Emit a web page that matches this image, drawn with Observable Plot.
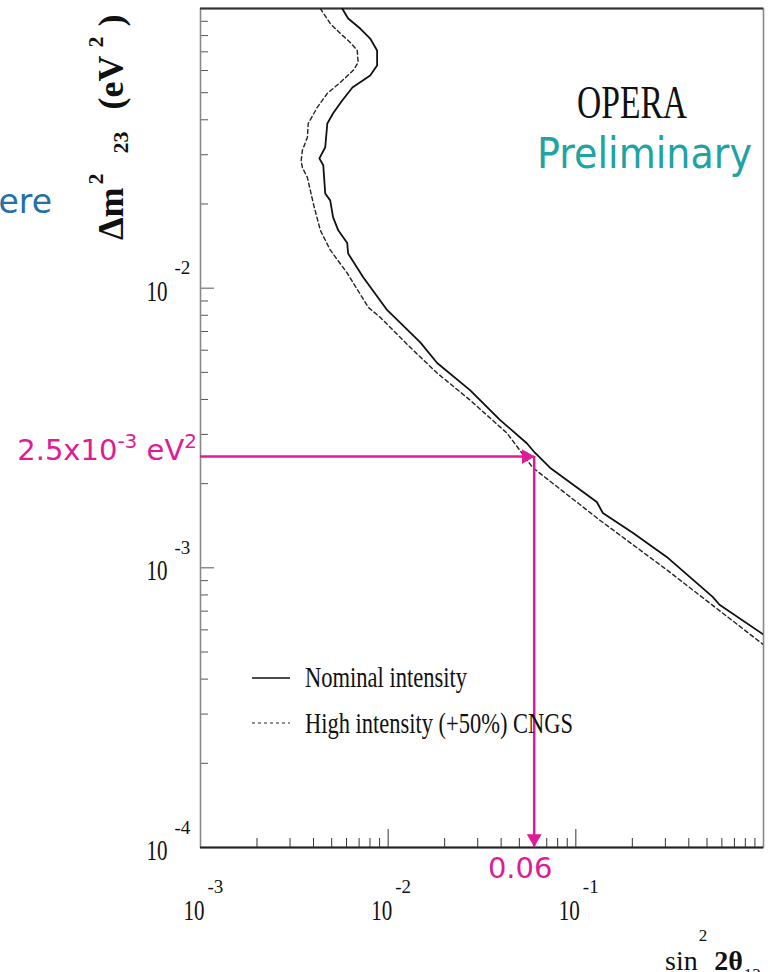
<!DOCTYPE html>
<html><head><meta charset="utf-8">
<script src="https://cdn.jsdelivr.net/npm/d3@7"></script>
<script src="https://cdn.jsdelivr.net/npm/@observablehq/plot@0.6"></script>
<style>body{margin:0;background:#fff;} svg{display:block}</style>
</head><body><div id="chart"></div>
<script>
// Nominal intensity contour (solid)
const nominalSin2 = [0.00569,0.00612,0.00710,0.00802,0.00873,0.00873,0.00802,0.00645,0.00569,0.00509,0.00474,0.00462,0.00430,0.00451,0.00462,0.00491,0.00509,0.00542,0.00605,0.00612,0.00736,0.00989,0.01479,0.01824,0.0273,0.0394,0.0548,0.0605,0.0728,0.1294,0.1393,0.201,0.305,0.536,0.583,1.0];
const nominalDm2  = [0.1,0.0921,0.0848,0.0781,0.0708,0.0626,0.0576,0.0522,0.0469,0.0422,0.0388,0.0319,0.0291,0.0275,0.0218,0.0206,0.0179,0.0161,0.0145,0.0133,0.01094,0.00834,0.00641,0.00540,0.00432,0.00338,0.00279,0.00258,0.00228,0.00172,0.00157,0.001334,0.001094,0.000787,0.000738,0.000577];
// High intensity (+50%) CNGS contour (dashed)
const highSin2 = [0.00435,0.00491,0.00556,0.00628,0.00684,0.00692,0.00652,0.00556,0.00474,0.00419,0.00375,0.00371,0.00349,0.00344,0.00349,0.00371,0.00399,0.00435,0.00491,0.00605,0.00783,0.00906,0.01309,0.01824,0.0273,0.0430,0.0590,0.1343,0.305,1.0];
const highDm2  = [0.1,0.0884,0.0814,0.0756,0.0708,0.0641,0.0601,0.0544,0.0497,0.0443,0.0388,0.0346,0.0311,0.0286,0.0270,0.0249,0.0201,0.0161,0.0137,0.01132,0.00855,0.00787,0.00615,0.00497,0.00398,0.00303,0.00228,0.00148,0.000984,0.000531];
// Highlighted point
const markSin2 = 0.06;
const markDm2 = 2.5e-3;
// Ticks
const xMajor = [1e-3, 1e-2, 1e-1, 1];
const xMinor = [2e-3,3e-3,4e-3,5e-3,6e-3,7e-3,8e-3,9e-3,2e-2,3e-2,4e-2,5e-2,6e-2,7e-2,8e-2,9e-2,0.2,0.3,0.4,0.5,0.6,0.7,0.8,0.9];
const yMajor = [1e-4, 1e-3, 1e-2, 1e-1];
const yMinor = [2e-4,3e-4,4e-4,5e-4,6e-4,7e-4,8e-4,9e-4,2e-3,3e-3,4e-3,5e-3,6e-3,7e-3,8e-3,9e-3,2e-2,3e-2,4e-2,5e-2,6e-2,7e-2,8e-2,9e-2];
const xLabelValues = [1e-3, 1e-2, 1e-1];
const xLabelExps = ["-3", "-2", "-1"];
const yLabelValues = [1e-4, 1e-3, 1e-2];
const yLabelExps = ["-4", "-3", "-2"];

const W = 770, H = 972, mL = 200, mR = 7, mT = 8, mB = 125;
const pw = W - mL - mR, ph = H - mT - mB;
const magenta = "#e01b96";
const serif = "Liberation Serif";
const nominal = nominalSin2.map((s, i) => ({s, dm: nominalDm2[i]}));
const high = highSin2.map((s, i) => ({s, dm: highDm2[i]}));

const chart = Plot.plot({
  width: W, height: H,
  marginLeft: mL, marginRight: mR, marginTop: mT, marginBottom: mB,
  x: {type: "log", domain: [1e-3, 1], axis: null},
  y: {type: "log", domain: [1e-4, 1e-1], axis: null},
  style: {background: "white", fontFamily: serif},
  marks: [
    Plot.ruleX(xMinor, {x: d => d, insetTop: ph - 9, stroke: "#333", strokeWidth: 1}),
    Plot.ruleX(xMajor, {x: d => d, insetTop: ph - 18, stroke: "#333", strokeWidth: 1}),
    Plot.ruleY(yMinor, {y: d => d, insetRight: pw - 8, stroke: "#555", strokeWidth: 1}),
    Plot.ruleY(yMajor, {y: d => d, insetRight: pw - 14, stroke: "#555", strokeWidth: 1}),
    Plot.frame({stroke: "#888", strokeWidth: 1.6}),
    Plot.ruleY([1e-1], {y: d => d, stroke: "#333", strokeWidth: 2}),
    Plot.ruleY([1e-4], {y: d => d, stroke: "#222", strokeWidth: 2.2}),
    Plot.line(high, {x: "s", y: "dm", stroke: "#222", strokeWidth: 1.4, strokeDasharray: "4,3", clip: true}),
    Plot.line(nominal, {x: "s", y: "dm", stroke: "#111", strokeWidth: 1.8, clip: true}),
    Plot.ruleY([markDm2], {y: d => d, x1: () => 1e-3, x2: () => markSin2, stroke: magenta, strokeWidth: 2.5}),
    Plot.ruleX([markSin2], {x: d => d, y1: () => 1e-4, y2: () => markDm2, stroke: magenta, strokeWidth: 2.5}),
    Plot.dot([markSin2], {x: d => d, y: () => markDm2, symbol: "triangle", rotate: 90, r: 5.5, fill: magenta, dx: -8}),
    Plot.dot([markSin2], {x: d => d, y: () => 1e-4, symbol: "triangle", rotate: 180, r: 5.5, fill: magenta, dy: -9}),
    // tick labels
    Plot.text(xLabelValues, {x: d => d, frameAnchor: "bottom", dy: 63, dx: 4, text: () => "10", textAnchor: "end", lineAnchor: "middle", fontSize: 30, fontFamily: serif, fill: "#111"}),
    Plot.text(xLabelValues, {x: d => d, frameAnchor: "bottom", dy: 39, dx: 7, text: (d, i) => xLabelExps[i], textAnchor: "start", lineAnchor: "middle", fontSize: 19, fontFamily: serif, fill: "#111"}),
    Plot.text(yLabelValues, {y: d => d, frameAnchor: "left", dy: 3, dx: -33, text: () => "10", textAnchor: "end", lineAnchor: "middle", fontSize: 30, fontFamily: serif, fill: "#111"}),
    Plot.text(yLabelValues, {y: d => d, frameAnchor: "left", dy: -20, dx: -26, text: (d, i) => yLabelExps[i], textAnchor: "start", lineAnchor: "middle", fontSize: 19, fontFamily: serif, fill: "#111"}),
    // highlighted value on x
    Plot.text([markSin2], {x: d => d, frameAnchor: "bottom", dy: 30, dx: -14, text: d => String(d), textAnchor: "middle", lineAnchor: "bottom", fontSize: 29, fontFamily: "DejaVu Sans", fill: magenta})
  ]
});

const svg = d3.select(chart);
// condensed "10" labels
svg.selectAll("text").filter(function() { return this.textContent === "10"; })
  .attr("textLength", 21).attr("lengthAdjust", "spacingAndGlyphs");

const ys = chart.scale("y");
const yMark = ys.apply(markDm2);

// magenta label on y
const ml = svg.append("text").attr("x", 197).attr("y", yMark + 4).attr("text-anchor", "end")
  .attr("font-family", "DejaVu Sans").attr("font-size", 29).attr("fill", magenta);
ml.append("tspan").text("2.5x10");
ml.append("tspan").attr("font-size", 20).attr("dy", -12).text("-3");
ml.append("tspan").attr("dy", 12).text(" eV");
ml.append("tspan").attr("font-size", 20).attr("dy", -12).text("2");

// cut-off slide word on the left
svg.append("text").attr("x", 52).attr("y", 213).attr("text-anchor", "end")
  .attr("font-family", "DejaVu Sans").attr("font-size", 33).attr("fill", "#2370a8").text("here");

// OPERA / Preliminary
svg.append("text").attr("x", 577).attr("y", 118).attr("text-anchor", "start").attr("font-family", serif).attr("font-size", 46)
  .attr("fill", "#111").attr("textLength", 110).attr("lengthAdjust", "spacingAndGlyphs").text("OPERA");
svg.append("text").attr("x", 537).attr("y", 168).attr("text-anchor", "start").attr("font-family", "DejaVu Sans").attr("font-size", 42)
  .attr("fill", "#1fa3a3").attr("textLength", 215).attr("lengthAdjust", "spacingAndGlyphs").text("Preliminary");

// legend
svg.append("line").attr("x1", 252).attr("x2", 290).attr("y1", 678).attr("y2", 678).attr("stroke", "#111").attr("stroke-width", 1.5);
svg.append("line").attr("x1", 252).attr("x2", 290).attr("y1", 723).attr("y2", 723).attr("stroke", "#222").attr("stroke-width", 1.2).attr("stroke-dasharray", "3,3");
svg.append("text").attr("x", 305).attr("y", 687).attr("text-anchor", "start").attr("font-family", serif).attr("font-size", 30).attr("fill", "#111")
  .attr("textLength", 162).attr("lengthAdjust", "spacingAndGlyphs").text("Nominal intensity");
svg.append("text").attr("x", 305).attr("y", 733).attr("text-anchor", "start").attr("font-family", serif).attr("font-size", 30).attr("fill", "#111")
  .attr("textLength", 268).attr("lengthAdjust", "spacingAndGlyphs").text("High intensity (+50%) CNGS");

// y axis title
const yt = svg.append("text").attr("transform", "translate(123,240) rotate(-90)").attr("text-anchor", "start")
  .attr("font-family", serif).attr("font-weight", "bold").attr("font-size", 36).attr("fill", "#111");
yt.append("tspan").text("Δm");
yt.append("tspan").attr("font-size", 22).attr("dx", 3).attr("dy", -20).text("2");
yt.append("tspan").attr("font-size", 22).attr("dx", 20).attr("dy", 25).text("23");
yt.append("tspan").attr("dx", 22).attr("dy", -5).text("(eV");
yt.append("tspan").attr("font-size", 22).attr("dx", 8).attr("dy", -20).text("2");
yt.append("tspan").attr("dx", 10).attr("dy", 20).text(")");

// x axis title
const xt = svg.append("text").attr("x", 665).attr("y", 970).attr("text-anchor", "start").attr("font-family", serif).attr("font-size", 28).attr("fill", "#111");
xt.append("tspan").text("sin");
xt.append("tspan").attr("font-size", 17).attr("dx", 1).attr("dy", -29).text("2");
xt.append("tspan").attr("font-weight", "bold").attr("dx", 7).attr("dy", 29).text("2θ");
xt.append("tspan").attr("font-size", 17).attr("dx", 1).attr("dy", 10).text("13");

document.getElementById("chart").appendChild(chart);
</script>
</body></html>
